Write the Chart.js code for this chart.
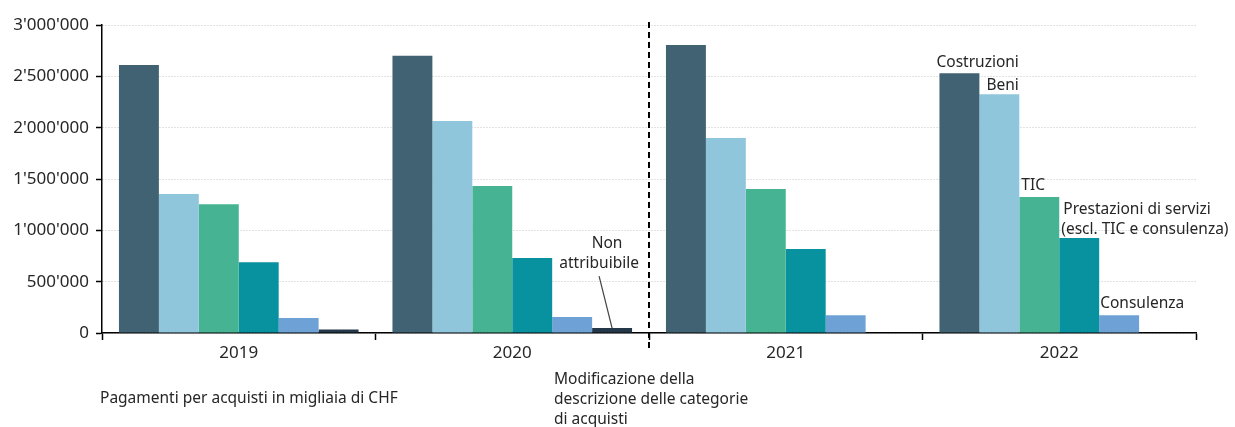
<!DOCTYPE html>
<html>
<head>
<meta charset="utf-8">
<script src="https://cdn.jsdelivr.net/npm/chart.js@4"></script>
<style>
    html, body { margin: 0; padding: 0; background: #fff; }
    #wrap { width: 1235px; height: 427px; position: relative; }
</style>
</head>
<body>
<div id="wrap"><canvas id="chart"></canvas></div>
<script>
const years = ['2019', '2020', '2021', '2022'];
const costruzioni = [2610000, 2700000, 2805000, 2530000];
const beni = [1355000, 2065000, 1900000, 2325000];
const tic = [1255000, 1432000, 1402000, 1325000];
const prestazioni = [690000, 730000, 818000, 925000];
const consulenza = [145000, 157000, 172000, 172000];
const nonAttribuibile = [35000, 48000, null, null];
const yTicks = [0, 500000, 1000000, 1500000, 2000000, 2500000, 3000000];

const FONT = "'Noto Sans', sans-serif";
const TEXT = '#262626';

function fmt(v) {
    return String(v).replace(/\B(?=(\d{3})+(?!\d))/g, "'");
}

// labels next to the bars + the dashed separator + footnotes
const annotations = {
    id: 'annotations',
    afterDraw(chart) {
        const ctx = chart.ctx;
        const x = chart.scales.x;
        const area = chart.chartArea;
        const bar = (ds, i) => chart.getDatasetMeta(ds).data[i];

        ctx.save();
        // dashed line between 2020 and 2021
        const sepX = (x.getPixelForValue(1) + x.getPixelForValue(2)) / 2;
        ctx.strokeStyle = '#000';
        ctx.lineWidth = 2;
        ctx.setLineDash([6, 4]);
        ctx.beginPath();
        ctx.moveTo(sepX, area.top - 3);
        ctx.lineTo(sepX, area.bottom + 18);
        ctx.stroke();
        ctx.setLineDash([]);

        ctx.font = '15.5px ' + FONT;
        ctx.fillStyle = TEXT;
        ctx.textBaseline = 'bottom';

        // series names on the 2022 group
        let b = bar(0, 3);
        ctx.textAlign = 'left';
        ctx.fillText('Costruzioni', b.x - b.width / 2 - 3, b.y - 3);
        b = bar(1, 3);
        ctx.fillText('Beni', b.x - b.width / 2 + 7, b.y - 1);
        b = bar(2, 3);
        ctx.fillText('TIC', b.x - b.width / 2 + 2, b.y - 4);
        b = bar(3, 3);
        ctx.fillText('Prestazioni di servizi', b.x - b.width / 2 + 4, b.y - 21);
        ctx.fillText('(escl. TIC e consulenza)', b.x - b.width / 2 + 2, b.y - 1);
        b = bar(4, 3);
        ctx.fillText('Consulenza', b.x - b.width / 2 + 1, b.y - 4);

        // "Non attribuibile" with leader line to 2020 bar
        b = bar(5, 1);
        ctx.textAlign = 'center';
        ctx.fillText('Non', b.x - 5, b.y - 77);
        ctx.fillText('attribuibile', b.x - 13, b.y - 57);
        ctx.strokeStyle = '#444';
        ctx.lineWidth = 1.2;
        ctx.beginPath();
        ctx.moveTo(b.x - 13, b.y - 52);
        ctx.lineTo(b.x, b.y);
        ctx.stroke();

        // footnotes
        ctx.textAlign = 'left';
        ctx.textBaseline = 'middle';
        ctx.fillText('Pagamenti per acquisti in migliaia di CHF', 100, 399);
        ctx.fillText('Modificazione della', sepX - 95, 380);
        ctx.fillText('descrizione delle categorie', sepX - 95, 400);
        ctx.fillText('di acquisti', sepX - 95, 420);
        ctx.restore();
    }
};

const seriesStyle = (label, data, color) => ({
    label, data,
    backgroundColor: color,
    borderWidth: 0,
    categoryPercentage: 0.876,
    barPercentage: 1
});

new Chart(document.getElementById('chart'), {
    type: 'bar',
    data: {
        labels: years,
        datasets: [
            seriesStyle('Costruzioni', costruzioni, '#416273'),
            seriesStyle('Beni', beni, '#90c6dc'),
            seriesStyle('TIC', tic, '#46b392'),
            seriesStyle('Prestazioni di servizi (escl. TIC e consulenza)', prestazioni, '#08919e'),
            seriesStyle('Consulenza', consulenza, '#6ea2d6'),
            seriesStyle('Non attribuibile', nonAttribuibile, '#24384a')
        ]
    },
    options: {
        responsive: true,
        maintainAspectRatio: false,
        animation: false,
        layout: { padding: { top: 25, right: 39, left: 0, bottom: 0 } },
        plugins: {
            legend: { display: false },
            tooltip: { enabled: false }
        },
        scales: {
            x: {
                grid: {
                    offset: true,
                    drawOnChartArea: false,
                    drawTicks: true,
                    tickLength: 7,
                    tickColor: '#000',
                    tickWidth: 1.5
                },
                border: { display: true, color: '#000', width: 1.5 },
                ticks: { color: TEXT, font: { family: FONT, size: 17 }, padding: 3 },
                afterFit(scale) { scale.height = 94; }
            },
            y: {
                min: 0,
                max: 3000000,
                afterBuildTicks(scale) { scale.ticks = yTicks.map(v => ({ value: v })); },
                grid: {
                    color: '#c4c4c4',
                    lineWidth: 1,
                    drawTicks: true,
                    tickLength: 6,
                    tickColor: '#000',
                    tickWidth: 1.5
                },
                border: { display: true, color: '#000', width: 1.5, dash: [1, 2] },
                ticks: {
                    color: TEXT,
                    font: { family: FONT, size: 17 },
                    padding: 7,
                    callback: v => fmt(v)
                },
                afterFit(scale) { scale.width = 102; }
            }
        }
    },
    plugins: [annotations]
});
</script>
</body>
</html>
